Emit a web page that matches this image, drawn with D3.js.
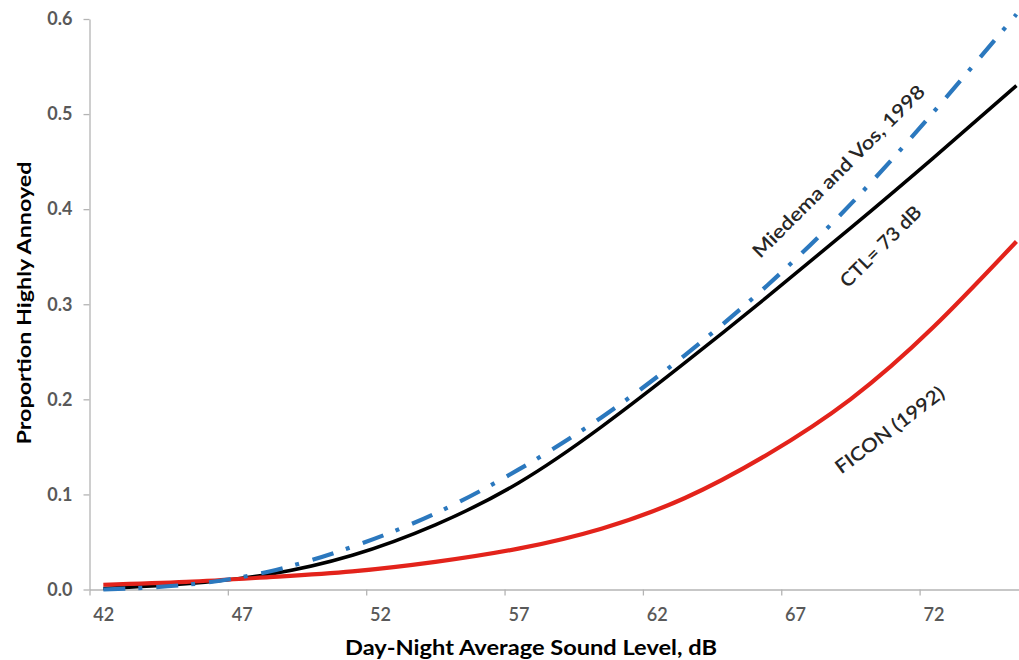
<!DOCTYPE html>
<html>
<head>
    <meta charset="utf-8">
    <title>Proportion Highly Annoyed</title>
    <script src="https://d3js.org/d3.v7.min.js"></script>
    <style type="text/css">
        body { margin: 0; background: #fff; }
        text { font-family: Lato, "Open Sans", sans-serif; }
        .axis path, .axis line { stroke: #b4b4b4; stroke-width: 1.3; }
        .ylab text { fill: #595959; font-size: 18px; font-weight: bold; }
        .xlab text { fill: #595959; font-size: 20px; font-weight: 600; }
    </style>
</head>
<body>
<script type="text/javascript">
    // day-night level (dB) and proportions
    let dnl        = [42, 45, 48, 51, 54, 57, 60, 63, 66, 69, 72, 75];
    let miedemaVos = [0.000, 0.005, 0.019, 0.045, 0.080, 0.126, 0.181, 0.246, 0.320, 0.405, 0.502, 0.605];
    let ctl73      = [0.001, 0.006, 0.016, 0.036, 0.068, 0.112, 0.171, 0.238, 0.308, 0.380, 0.454, 0.530];
    let ficon      = [0.005, 0.008, 0.013, 0.019, 0.029, 0.043, 0.064, 0.096, 0.142, 0.200, 0.276, 0.366];

    let xTickLabels = [42, 47, 52, 57, 62, 67, 72];
    let xTickMarks  = [41.5, 46.5, 51.5, 56.5, 61.5, 66.5, 71.5, 76.5];
    let yTicks      = [0, 0.1, 0.2, 0.3, 0.4, 0.5, 0.6];

    let width = 1019, height = 660;

    let svg = d3.select("body").append("svg")
        .attr("width", width)
        .attr("height", height);

    // category axis: 34 one-dB slots, last one runs off the picture
    let x = d3.scaleLinear().domain([41.5, 75.5]).range([89.5, 89.5 + 34 * 27.67]);
    let y = d3.scaleLinear().domain([0, 0.6]).range([589.5, 19]);

    // y axis
    svg.append("g")
        .attr("class", "axis ylab")
        .attr("transform", "translate(" + x(41.5) + ",0)")
        .call(d3.axisLeft(y).tickValues(yTicks).tickFormat(d3.format(".1f"))
            .tickSize(6).tickSizeOuter(0).tickPadding(11));

    // x axis line + tick marks between categories
    svg.append("g")
        .attr("class", "axis")
        .attr("transform", "translate(0," + y(0) + ")")
        .call(d3.axisBottom(x).tickValues(xTickMarks).tickFormat("")
            .tickSize(6).tickSizeOuter(0));

    // x labels centred on categories
    let xl = svg.append("g")
        .attr("class", "xlab")
        .attr("transform", "translate(0," + y(0) + ")")
        .call(d3.axisBottom(x).tickValues(xTickLabels).tickFormat(d3.format("d"))
            .tickSize(0).tickPadding(17));
    xl.select(".domain").remove();
    xl.selectAll("text")
        .attr("textLength", 21)
        .attr("lengthAdjust", "spacingAndGlyphs");

    // axis titles
    svg.append("text")
        .attr("transform", "translate(23," + 303 + ") rotate(-90)")
        .attr("text-anchor", "middle")
        .attr("dominant-baseline", "central")
        .attr("textLength", 283)
        .attr("lengthAdjust", "spacingAndGlyphs")
        .style("font-size", "19px")
        .style("font-weight", "bold")
        .style("fill", "#000")
        .text("Proportion Highly Annoyed");

    svg.append("text")
        .attr("x", 531)
        .attr("y", 655)
        .attr("text-anchor", "middle")
        .attr("textLength", 372)
        .attr("lengthAdjust", "spacingAndGlyphs")
        .style("font-size", "20px")
        .style("font-weight", "bold")
        .style("fill", "#000")
        .text("Day-Night Average Sound Level, dB");

    let line = d3.line().curve(d3.curveNatural);

    function draw(vals, color, w, dash) {
        let p = svg.append("path")
            .attr("d", line(vals.map((v, i) => [x(dnl[i]), y(v)])))
            .style("fill", "none")
            .style("stroke", color)
            .style("stroke-width", w);
        if (dash) p.style("stroke-dasharray", dash);
    }

    draw(ctl73, "#000000", 3.5);
    draw(ficon, "#e3231b", 4.2);
    draw(miedemaVos, "#2b78be", 4.2, "22,13,4,14");

    // curve labels
    let notes = [
        { t: "Miedema and Vos, 1998", d: 68.55, v: 0.4405, a: -45, len: 235 },
        { t: "CTL= 73 dB",            d: 70.07, v: 0.3614, a: -45, len: 106 },
        { t: "FICON (1992)",          d: 70.4,  v: 0.1686, a: -37, len: 131 }
    ];
    svg.selectAll(".note").data(notes).enter().append("text")
        .attr("class", "note")
        .attr("transform", d => "translate(" + x(d.d) + "," + y(d.v) + ") rotate(" + d.a + ")")
        .attr("text-anchor", "middle")
        .attr("dominant-baseline", "central")
        .attr("textLength", d => d.len)
        .attr("lengthAdjust", "spacingAndGlyphs")
        .style("font-size", "19px")
        .style("font-weight", "600")
        .style("fill", "#262626")
        .text(d => d.t);
</script>
</body>
</html>
